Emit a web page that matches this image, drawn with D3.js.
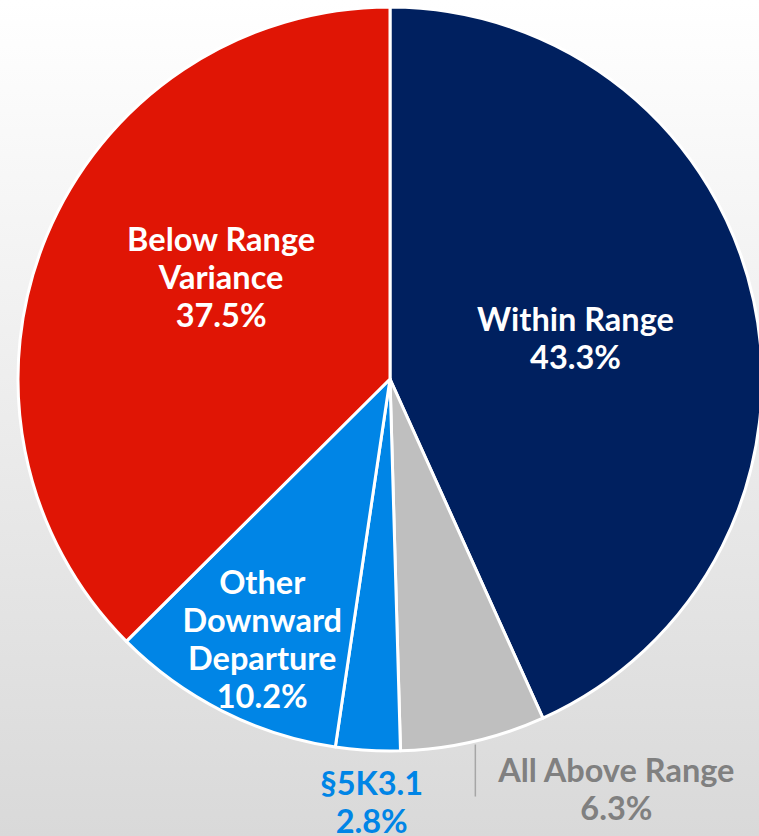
<!DOCTYPE html>
<html>
<head>
<meta charset="utf-8">
<script src="https://cdn.jsdelivr.net/npm/d3@7"></script>
<style>
  html, body { margin: 0; padding: 0; }
  body { width: 759px; height: 836px; overflow: hidden; }
  text { font-family: Lato, "Open Sans", sans-serif; font-weight: bold; }
</style>
</head>
<body>
<script>

// slices, clockwise from 12 o'clock
var categories = ["Within Range", "All Above Range", "§5K3.1", "Other Downward Departure", "Below Range Variance"];
var values = [43.3, 6.3, 2.8, 10.2, 37.5];
var labelLines = [["Within Range"], ["All Above Range"], ["§5K3.1"], ["Other", "Downward", "Departure"], ["Below Range", "Variance"]];
var colors = ["#00205f", "#bfbfbf", "#0085e6", "#0085e6", "#e01505"];
var textColors = ["#ffffff", "#808080", "#0085e6", "#ffffff", "#ffffff"];

var width = 759, height = 836;
var cx = 390, cy = 379, radius = 372;

var svg = d3.select("body")
    .append("svg")
    .attr("width", width).attr("height", height);

var grad = svg.append("defs").append("linearGradient")
    .attr("id", "bg").attr("x1", 0).attr("y1", 0).attr("x2", 0).attr("y2", 1);
grad.append("stop").attr("offset", "0%").attr("stop-color", "#ffffff");
grad.append("stop").attr("offset", "100%").attr("stop-color", "#d9d9d9");

svg.append("rect")
    .attr("width", width).attr("height", height)
    .attr("fill", "url(#bg)");

var g = svg.append("g").attr("transform", "translate(" + cx + "," + cy + ")");

var pie = d3.pie().sort(null).value(function (d) { return d; });
var arcs = pie(values);

var arc = d3.arc().innerRadius(0).outerRadius(radius);

g.selectAll("path.slice")
    .data(arcs)
    .enter()
    .append("path")
    .attr("class", "slice")
    .attr("d", arc)
    .attr("fill", function (d, i) { return colors[i]; })
    .attr("stroke", "white")
    .attr("stroke-width", 3)
    .attr("stroke-linejoin", "round");

// label placement: distance from centre (fraction of radius), angle nudge (deg), pixel nudge
var labelPos = [
    { r: 0.51, da: 0, dx: 0, dy: 0 },
    { r: 1.0, da: 0, dx: 143, dy: 48 },
    { r: 1.14, da: 0, dx: 7, dy: 0 },
    { r: 0.78, da: 0, dx: 3, dy: 2 },
    { r: 0.53, da: 8.5, dx: 0, dy: 0 }
];
var lineH = 38;

function labelXY(d, i) {
    var p = labelPos[i];
    var a = (d.startAngle + d.endAngle) / 2 + p.da * Math.PI / 180;
    var r = p.r * radius;
    return [r * Math.sin(a) + p.dx, -r * Math.cos(a) + p.dy];
}

// leader line for the small grey slice
var above = arcs[1];
var midA = (above.startAngle + above.endAngle) / 2;
var lx = radius * Math.sin(midA), ly = -radius * Math.cos(midA);
g.append("line")
    .attr("x1", lx + 2).attr("y1", ly + 3)
    .attr("x2", lx + 2).attr("y2", ly + 55)
    .attr("stroke", "#a6a6a6")
    .attr("stroke-width", 1.5);

var labels = g.selectAll("text.lbl")
    .data(arcs)
    .enter()
    .append("text")
    .attr("class", "lbl")
    .attr("text-anchor", "middle")
    .attr("font-size", "32.5px")
    .attr("fill", function (d, i) { return textColors[i]; })
    .attr("transform", function (d, i) {
        var p = labelXY(d, i);
        return "translate(" + p[0] + "," + p[1] + ")";
    });

labels.each(function (d, i) {
    var lines = labelLines[i].concat([d3.format(".1f")(values[i]) + "%"]);
    var t = d3.select(this);
    var y0 = -(lines.length - 1) * lineH / 2;
    lines.forEach(function (s, k) {
        t.append("tspan")
            .attr("x", 0)
            .attr("y", y0 + k * lineH)
            .attr("dy", "0.35em")
            .text(s);
    });
});

</script>
</body>
</html>
